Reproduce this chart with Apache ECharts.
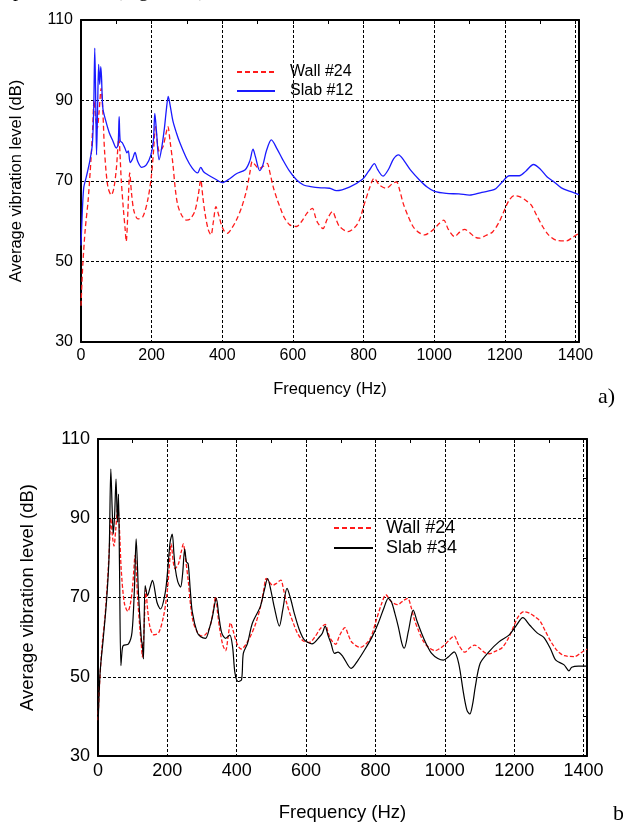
<!DOCTYPE html>
<html>
<head>
<meta charset="utf-8">
<script src="https://cdn.jsdelivr.net/npm/echarts@6/dist/echarts.min.js"></script>
<style>
  html, body { margin: 0; padding: 0; background: #fff; }
  #chart { width: 623px; height: 827px; }
</style>
</head>
<body>
<div id="chart"></div>
<script>
// Wall #24 (shared by both panels)
const wallFreq = [0, 5, 12, 20, 28, 33, 37, 41, 46, 51, 57, 62, 67, 76, 86, 93, 100, 107, 114, 120, 125, 128, 133, 138, 143, 150, 161, 175, 189, 199, 205, 211, 217, 222, 232, 240, 246, 252, 260, 267, 274, 285, 298, 308, 322, 332, 339, 345, 351, 360, 368, 375, 382, 390, 398, 406, 414, 425, 440, 455, 469, 478, 485, 493, 504, 515, 527, 535, 544, 555, 563, 575, 591, 610, 625, 640, 655, 664, 671, 685, 697, 712, 722, 732, 756, 784, 803, 818, 830, 845, 864, 880, 893, 903, 912, 925, 940, 955, 973, 990, 1001, 1015, 1027, 1040, 1058, 1072, 1086, 1100, 1115, 1128, 1145, 1166, 1185, 1199, 1212, 1227, 1245, 1262, 1275, 1290, 1307, 1325, 1345, 1374, 1392, 1410]
const wallLevel = [39, 49, 58, 65, 75, 83, 90, 86, 83, 87, 93, 87, 77, 68.6, 66.5, 68.2, 73, 80.6, 70.2, 63, 58, 55, 62.8, 72, 67, 62.5, 60.6, 61.1, 65.3, 71, 77, 83.5, 79, 77.3, 78.5, 81.5, 83.5, 80, 74.4, 68, 64, 61.5, 60.3, 60.5, 62.4, 66.5, 70.2, 66, 62, 58, 56.6, 60, 63.6, 61.5, 59, 57.5, 57, 58, 60.3, 63.5, 67.8, 72, 74.8, 74, 73.1, 73.6, 74.4, 72, 68.6, 65.5, 63.6, 61, 59.1, 58.7, 60, 62, 63.2, 61, 59.5, 58.2, 60.5, 62.4, 60.5, 58.7, 57.4, 59.5, 64.5, 68.5, 70.7, 69, 68.2, 69.2, 69.8, 67.5, 64.5, 61.5, 58.7, 57.3, 56.6, 57.4, 58.2, 59.5, 60.3, 58, 56.2, 57.3, 58, 57.2, 56.1, 55.8, 56.4, 57.4, 60, 62.8, 65.2, 66.4, 66, 65, 64, 61.5, 58.7, 56.5, 55.3, 55.1, 56, 57]

// Slab #12 (panel a)
const slab12Freq = [0, 4, 8, 15, 25, 32, 36, 39, 42, 44, 47, 50, 53, 56, 58, 62, 70, 80, 90, 100, 105, 108, 111, 117, 125, 130, 134, 139, 146, 153, 160, 172, 185, 198, 205, 209, 214, 221, 228, 236, 242, 247, 252, 260, 270, 280, 299, 315, 330, 339, 347, 360, 380, 400, 420, 440, 465, 478, 487, 494, 506, 515, 525, 539, 555, 570, 590, 610, 630, 650, 680, 704, 723, 760, 798, 815, 831, 840, 855, 870, 885, 899, 915, 935, 959, 980, 1001, 1034, 1070, 1100, 1135, 1171, 1190, 1213, 1241, 1260, 1281, 1300, 1320, 1336, 1360, 1385, 1410]
const slab12Level = [54, 63, 68.5, 71, 75, 79, 88, 103, 88, 76.5, 88, 99, 94, 98.4, 96, 88, 85, 82, 80, 78.2, 79, 86, 80, 79.5, 78, 77, 77.5, 74.6, 75.5, 77.1, 75, 73.4, 74, 76.5, 80, 86.8, 82, 75.3, 78, 83, 88, 91, 89, 85, 82, 79.5, 75.6, 73.2, 72, 73.4, 72.3, 71.5, 70.5, 69.6, 70.5, 71.8, 72.8, 75, 77.9, 76, 72.6, 74, 77.5, 80.2, 78, 75.5, 72.5, 70.3, 69, 68.6, 68.3, 68.2, 67.6, 68.5, 70.5, 72.5, 74.3, 72.8, 71.2, 72.8, 75.5, 76.5, 75, 72.5, 70.2, 68.5, 67.4, 66.9, 66.8, 66.5, 67.2, 67.9, 69.5, 71.3, 71.3, 72.5, 74.1, 73, 71, 70, 68.3, 67.4, 66.6]

// Slab #34 (panel b)
const slab34Freq = [0, 6, 15, 25, 32, 37, 41, 44, 48, 52, 56, 59, 62, 66, 70, 73, 88, 98, 105, 110, 117, 125, 128, 131, 136, 143, 150, 157, 170, 180, 194, 202, 208, 214, 219, 223, 230, 238, 244, 250, 255, 260, 266, 272, 286, 296, 310, 322, 330, 341, 349, 357, 368, 380, 388, 395, 404, 414, 419, 431, 445, 468, 480, 489, 498, 508, 523, 533, 545, 556, 566, 580, 595, 617, 639, 647, 655, 663, 672, 682, 692, 706, 730, 750, 769, 790, 808, 825, 837, 846, 856, 866, 876, 883, 895, 909, 920, 933, 947, 962, 980, 996, 1010, 1027, 1040, 1054, 1064, 1072, 1080, 1088, 1102, 1127, 1156, 1185, 1205, 1225, 1245, 1267, 1286, 1305, 1320, 1344, 1358, 1366, 1385, 1410]
const slab34Level = [37, 51, 59.5, 69.6, 80.6, 102.4, 92, 86, 91, 99.9, 89, 96.1, 78, 52.8, 57, 57.9, 58.3, 61.2, 72.2, 84.8, 70.5, 59.5, 58, 54.5, 73, 70.5, 72.5, 74.3, 68.8, 67.1, 71.3, 78, 84, 86, 81, 77.2, 74, 72.6, 76, 82.2, 79, 78.5, 72, 66.3, 61.2, 60.1, 59.7, 62.5, 65.2, 69.8, 65, 61, 59.7, 60.5, 57.6, 50.9, 48.8, 49.3, 55.9, 58.4, 63.5, 67.7, 72, 74.8, 72, 67.7, 62.8, 67, 72.3, 69.5, 66, 62, 59.3, 58.3, 60.1, 61, 62.8, 60.5, 58.4, 55.9, 56.2, 55.1, 52.1, 54.2, 56.8, 60, 63.5, 67.5, 69.8, 68.9, 66, 62.6, 58.5, 57.2, 61.5, 66.8, 64, 61, 58.2, 55.9, 54.6, 54.2, 55, 56.3, 53.4, 45.8, 41.5, 40.6, 43, 47.5, 53.4, 56.3, 58.8, 60.5, 62.8, 64.9, 63, 61, 59.9, 57, 54.2, 53, 51.5, 52.4, 52.7, 52.7]

const freqTicks = [0, 200, 400, 600, 800, 1000, 1200, 1400]
const levelTicks = [30, 50, 70, 90, 110]

const pairs = (xs, ys) => xs.map((x, i) => [x, ys[i]])

const FONT = 'Liberation Sans, Arial, sans-serif'
const SERIF = '"Liberation Serif", "Times New Roman", serif'
const gridLine = { show: true, lineStyle: { color: '#000', width: 1, type: [3, 2] } }
const frame = { show: true, onZero: false, lineStyle: { color: '#000', width: 2 } }

function panelAxes(gridIndex, fontSize, nameSize, xGap, yGap) {
  const x = [
    {
      gridIndex, type: 'value', min: 0, max: 1410, interval: 200,
      axisLine: frame, axisTick: { show: false }, splitLine: gridLine,
      axisLabel: {
        color: '#000', fontSize, fontFamily: FONT, margin: 6,
        formatter: v => freqTicks.includes(v) ? String(v) : ''
      },
      name: 'Frequency (Hz)', nameLocation: 'middle', nameGap: xGap,
      nameTextStyle: { color: '#000', fontSize: nameSize, fontFamily: FONT }
    },
    {
      gridIndex, type: 'value', position: 'top', min: 0, max: 1410, interval: 100,
      axisLine: frame, axisTick: { show: true, inside: true, length: 4, lineStyle: { color: '#000' } },
      axisLabel: { show: false }, splitLine: { show: false }
    }
  ]
  const y = [
    {
      gridIndex, type: 'value', min: 30, max: 110, interval: 20,
      axisLine: frame, axisTick: { show: false }, splitLine: gridLine,
      axisLabel: {
        color: '#000', fontSize, fontFamily: FONT, margin: 8,
        formatter: v => levelTicks.includes(v) ? String(v) : ''
      },
      name: 'Average vibration level (dB)', nameLocation: 'middle', nameGap: yGap,
      nameTextStyle: { color: '#000', fontSize: nameSize, fontFamily: FONT }
    },
    {
      gridIndex, type: 'value', position: 'right', min: 30, max: 110, interval: 10,
      axisLine: frame, axisTick: { show: true, inside: true, length: 4, lineStyle: { color: '#000' } },
      axisLabel: { show: false }, splitLine: { show: false }
    }
  ]
  return { x, y }
}

const a = panelAxes(0, 16, 16.5, 39, 56)
const b = panelAxes(1, 18, 18.5, 47, 61)

const chart = echarts.init(document.getElementById('chart'), null, { renderer: 'canvas' })

chart.setOption({
  backgroundColor: '#fff',
  animation: false,
  grid: [
    { left: 81, top: 20, width: 498, height: 322 },
    { left: 98, top: 439, width: 489, height: 317 }
  ],
  xAxis: [...a.x, ...b.x],
  yAxis: [...a.y, ...b.y],
  legend: [
    {
      orient: 'vertical', left: 236, top: 64, padding: 0,
      itemWidth: 38, itemHeight: 12, itemGap: 3,
      itemStyle: { opacity: 0 },
      textStyle: { color: '#000', fontSize: 16, fontFamily: FONT, padding: [0, 0, 0, 10] },
      data: ['Wall #24', 'Slab #12']
    },
    {
      orient: 'vertical', left: 333, top: 519, padding: 0,
      itemWidth: 39, itemHeight: 12, itemGap: 2,
      itemStyle: { opacity: 0 },
      textStyle: { color: '#000', fontSize: 18, fontFamily: FONT, padding: [0, 0, 0, 8] },
      data: ['Wall #24', 'Slab #34']
    }
  ],
  series: [
    {
      name: 'Wall #24', type: 'line', xAxisIndex: 0, yAxisIndex: 0,
      data: pairs(wallFreq, wallLevel), symbol: 'none', smooth: 0.3,
      lineStyle: { color: '#ff1a1a', width: 1.3, type: [5, 3] }, itemStyle: { color: '#ff1a1a' }, z: 3
    },
    {
      name: 'Slab #12', type: 'line', xAxisIndex: 0, yAxisIndex: 0,
      data: pairs(slab12Freq, slab12Level), symbol: 'none', smooth: 0.3,
      lineStyle: { color: '#1a1aff', width: 1.3 }, itemStyle: { color: '#1a1aff' }, z: 4
    },
    {
      name: 'Wall #24', type: 'line', xAxisIndex: 2, yAxisIndex: 2,
      data: pairs(wallFreq, wallLevel), symbol: 'none', smooth: 0.3,
      lineStyle: { color: '#ff1a1a', width: 1.3, type: [4, 2] }, itemStyle: { color: '#ff1a1a' }, z: 3
    },
    {
      name: 'Slab #34', type: 'line', xAxisIndex: 2, yAxisIndex: 2,
      data: pairs(slab34Freq, slab34Level), symbol: 'none', smooth: 0.3,
      lineStyle: { color: '#000', width: 1.2 }, itemStyle: { color: '#000' }, z: 4
    }
  ],
  graphic: [
    { type: 'text', left: 13, top: -19, style: { text: 'presented in (Figure 10)', font: '20px ' + SERIF, fill: '#000' } },
    { type: 'text', left: 598, top: 386, style: { text: 'a)', font: '22px ' + SERIF, fill: '#000' } },
    { type: 'text', left: 613, top: 803, style: { text: 'b)', font: '22px ' + SERIF, fill: '#000' } }
  ]
})
</script>
</body>
</html>
